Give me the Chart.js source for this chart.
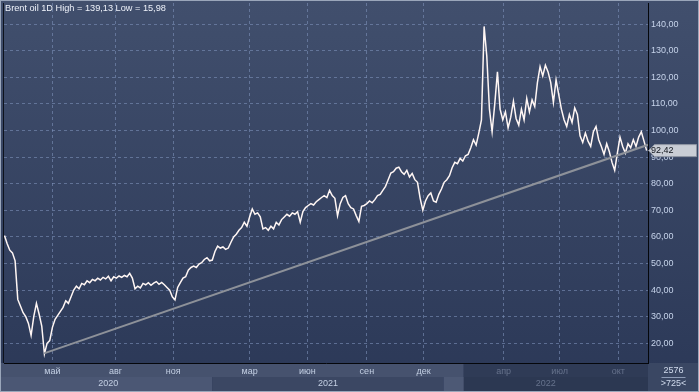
<!DOCTYPE html>
<html>
<head>
<meta charset="utf-8">
<script src="https://cdn.jsdelivr.net/npm/chart.js@4.4.0/dist/chart.umd.min.js"></script>
<style>
  html, body { margin: 0; padding: 0; background: #34415f; }
  canvas { display: block; }
</style>
</head>
<body>
<canvas id="brentChart" width="699" height="392"></canvas>
<script>
// Brent oil, daily bars; one reading every 3 bars (725 bars on screen)
const STEP = 3;
const closes = [
  60.5, 57.5, 55.0, 54.0, 51.0, 36.5, 34.0, 31.5, 30.0, 27.5,
  23.0, 30.0, 35.0, 31.0, 26.5, 16.0, 20.0, 21.0, 26.0, 29.0,
  30.5, 32.0, 33.5, 36.0, 35.0, 37.5, 40.0, 41.5, 40.5, 42.5,
  42.0, 43.5, 42.8, 44.0, 43.5, 44.5, 43.8, 44.8, 44.2, 45.2,
  43.5, 45.0, 44.5, 45.3, 44.8, 45.5, 45.0, 46.3, 44.5, 40.5,
  41.5, 40.8, 42.5, 42.0, 42.8, 41.8, 42.6, 43.2, 42.2, 42.9,
  42.0, 41.0, 40.0, 37.5, 36.3, 41.0, 42.8, 44.5, 45.0, 47.5,
  48.5, 49.0, 48.5, 49.8, 50.3, 51.5, 52.2, 51.0, 51.3, 54.5,
  56.5, 55.8, 56.2, 55.3, 55.8, 58.0, 60.0, 61.0, 62.5, 63.5,
  65.5, 64.0, 67.5, 70.5, 68.5, 69.0, 67.5, 63.0, 63.5, 62.5,
  64.0, 63.0, 65.5, 64.5, 66.5, 67.5, 68.5, 67.8, 69.0, 68.5,
  69.5, 65.5, 69.5, 71.0, 71.8, 72.5, 72.0, 73.2, 74.0, 74.8,
  75.5, 74.8, 77.5, 75.5, 74.5, 68.0, 72.5, 74.8, 75.5, 72.5,
  71.0, 70.5, 68.0, 65.8, 71.5, 71.8, 72.5, 73.5, 72.8, 74.0,
  75.5, 76.0, 77.5, 79.0, 81.5, 84.0, 84.5, 85.8, 86.2, 84.5,
  83.5, 85.0, 82.5, 83.8, 81.5, 80.5, 74.5, 70.0, 73.5, 75.5,
  76.5, 73.5, 73.0, 76.0, 78.0, 80.5, 81.5, 83.0, 86.0, 88.0,
  87.5, 89.5, 88.5, 90.5, 91.0, 93.5, 96.5, 94.5, 99.0, 104.0,
  139.1, 128.0, 108.0, 99.5, 110.0, 122.0, 108.0, 104.0, 107.0, 101.0,
  105.0, 111.0, 104.5, 102.0, 108.0, 104.0, 112.0, 107.0, 111.5, 109.0,
  118.0, 124.0, 120.5, 124.5, 122.0, 118.0, 110.5, 119.0, 113.5, 108.0,
  104.0, 101.5, 106.0, 103.0, 108.5, 106.0, 98.0, 95.5, 99.0, 96.0,
  94.0, 99.5, 101.5, 96.5, 94.0, 91.0, 95.0, 92.0, 88.0, 85.0,
  91.5, 97.5, 94.0, 91.5, 95.0, 93.5, 96.5, 94.0, 97.5, 99.5,
  96.0, 92.42
];

// support line drawn from the April 2020 low
const trendIdx = [44.6, 724.5];
const trendVals = [16.2, 94.6];

const monthIdx = [54, 125, 190, 276, 341, 408, 472, 562, 625, 691];
const monthNames = ['май', 'авг', 'ноя', 'мар', 'июн', 'сен', 'дек', 'апр', 'июл', 'окт'];
const yearNames = ['2020', '2021', '2022'];
const yearStart = [-0.5, 234, 494.5, 724.5]; // band edges, in bars
const dimFrom = 517;  // bars after this are greyed out on the time axis
const priceTicks = [20, 30, 40, 50, 60, 70, 80, 90, 100, 110, 120, 130, 140];
const lastPrice = 92.42;
const barsTotal = '2576';
const barsShown = '>725<';

const FONT = 'Liberation Sans, Arial, sans-serif';
const fmt = v => v.toFixed(2).replace('.', ',');

const decor = {
  id: 'decor',
  beforeDraw(chart) {
    const { ctx, chartArea: a, width, height, scales: { x } } = chart;
    const g = ctx.createLinearGradient(0, 0, 0, height);
    g.addColorStop(0, '#414f6d');
    g.addColorStop(1, '#2b3857');
    ctx.save();
    ctx.fillStyle = g;
    ctx.fillRect(0, 0, width, height);

    // time axis bands
    const dimX = x.getPixelForValue(dimFrom);
    ctx.fillStyle = '#46526e';
    ctx.fillRect(0, a.bottom, dimX, 14);
    ctx.fillStyle = '#2f3b56';
    ctx.fillRect(dimX, a.bottom, a.right - dimX, 14);
    const yearFill = ['#4b5774', '#3b4763', '#4d5975'];
    for (let i = 0; i < yearNames.length; i++) {
      const x0 = i === 0 ? 0 : x.getPixelForValue(yearStart[i]);
      const x1 = x.getPixelForValue(yearStart[i + 1]);
      ctx.fillStyle = yearFill[i];
      ctx.fillRect(x0, a.bottom + 14, x1 - x0, height - a.bottom - 14);
    }
    ctx.fillStyle = '#2c3852';
    ctx.fillRect(dimX, a.bottom + 14, a.right - dimX, height - a.bottom - 14);
    // corner cell
    ctx.fillStyle = '#3a4763';
    ctx.fillRect(a.right, a.bottom, width - a.right, height - a.bottom);
    ctx.restore();
  },
  afterDraw(chart) {
    const { ctx, chartArea: a, width, height, scales: { x, y } } = chart;
    ctx.save();
    ctx.font = '9px ' + FONT;
    ctx.textBaseline = 'middle';

    // year labels
    ctx.textAlign = 'center';
    for (let i = 0; i < yearNames.length; i++) {
      const x0 = x.getPixelForValue(yearStart[i]);
      const x1 = x.getPixelForValue(yearStart[i + 1]);
      ctx.fillStyle = i === 2 ? '#66728c' : '#c3cfe3';
      ctx.fillText(yearNames[i], (x0 + x1) / 2, a.bottom + 21);
    }

    // bar counters in the corner
    const cx = (a.right + width) / 2;
    ctx.fillStyle = '#d0daec';
    ctx.fillText(barsTotal, cx, a.bottom + 8);
    ctx.fillText(barsShown, cx, a.bottom + 21);
    ctx.strokeStyle = '#8e9cb6';
    ctx.lineWidth = 1;
    ctx.beginPath();
    ctx.moveTo(cx - 12, a.bottom + 14.5);
    ctx.lineTo(cx + 12, a.bottom + 14.5);
    ctx.stroke();

    // last price tag
    const py = y.getPixelForValue(lastPrice);
    ctx.beginPath();
    ctx.moveTo(a.right + 0.5, py);
    ctx.lineTo(a.right + 6.5, py - 6);
    ctx.lineTo(width - 2.5, py - 6);
    ctx.lineTo(width - 2.5, py + 6);
    ctx.lineTo(a.right + 6.5, py + 6);
    ctx.closePath();
    ctx.fillStyle = '#c9cdd5';
    ctx.fill();
    ctx.strokeStyle = '#8f96a3';
    ctx.stroke();
    ctx.fillStyle = '#10141c';
    ctx.textAlign = 'left';
    ctx.fillText(fmt(lastPrice), a.right + 3, py);

    // title
    ctx.fillStyle = '#eef2fa';
    ctx.font = '9.2px ' + FONT;
    ctx.fillText('Brent oil 1D High = 139,13 Low = 15,98', 5, 8);

    // frame
    ctx.strokeStyle = '#0d121c';
    ctx.beginPath();
    ctx.moveTo(a.left - 0.5, a.top);
    ctx.lineTo(a.left - 0.5, a.bottom);
    ctx.stroke();
    ctx.strokeStyle = '#9aa6ba';
    ctx.strokeRect(0.5, 0.5, width - 1, height - 1);
    ctx.restore();
  }
};

const gridColor = 'rgba(125, 145, 185, 0.6)';

new Chart(document.getElementById('brentChart'), {
  type: 'line',
  data: {
    datasets: [
      {
        data: closes.map((v, k) => ({ x: k * STEP, y: v })),
        borderColor: '#fff6f4',
        borderWidth: 1.5,
        pointRadius: 0,
        tension: 0,
        order: 2
      },
      {
        data: trendIdx.map((v, k) => ({ x: v, y: trendVals[k] })),
        borderColor: '#8d9199',
        borderWidth: 2,
        pointRadius: 0,
        order: 1
      }
    ]
  },
  options: {
    responsive: false,
    animation: false,
    devicePixelRatio: 1,
    layout: { padding: { left: 4, top: 3, right: 0, bottom: 0 } },
    plugins: { legend: { display: false }, tooltip: { enabled: false } },
    scales: {
      x: {
        type: 'linear',
        min: -0.5,
        max: 724.5,
        afterBuildTicks: s => { s.ticks = monthIdx.map(v => ({ value: v })); },
        afterFit: s => { s.height = 29; s.paddingLeft = 0; s.paddingRight = 0; },
        grid: { color: gridColor, drawTicks: false },
        border: { display: true, color: '#05070b', width: 1, dash: [3, 3] },
        ticks: {
          autoSkip: false,
          maxRotation: 0,
          padding: 3,
          font: { family: FONT, size: 9 },
          color: c => (monthIdx[c.index] >= dimFrom ? '#66728c' : '#c3cfe3'),
          callback: v => monthNames[monthIdx.indexOf(v)]
        }
      },
      y: {
        position: 'right',
        min: 12.6,
        max: 147.9,
        afterBuildTicks: s => { s.ticks = priceTicks.map(v => ({ value: v })); },
        afterFit: s => { s.width = 51; s.paddingTop = 0; s.paddingBottom = 0; },
        grid: { color: gridColor, drawTicks: false },
        border: { display: true, color: '#05070b', width: 1, dash: [3, 3] },
        ticks: {
          padding: 3,
          font: { family: FONT, size: 9 },
          color: '#c6d3ea',
          callback: v => fmt(v)
        }
      }
    }
  },
  plugins: [decor]
});
</script>
</body>
</html>
